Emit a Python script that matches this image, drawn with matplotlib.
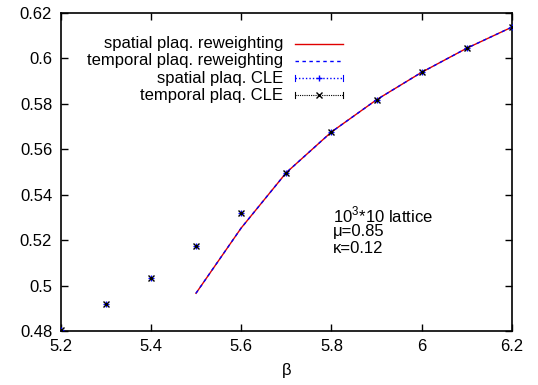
import matplotlib
matplotlib.use("Agg")
import matplotlib.pyplot as plt
from matplotlib.lines import Line2D

plt.rcParams['font.family'] = ['Liberation Sans', 'DejaVu Sans']
plt.rcParams['mathtext.fontset'] = 'custom'
plt.rcParams['mathtext.rm'] = 'Liberation Sans'

# ---- data ----
beta_rw = [5.5, 5.6, 5.7, 5.8, 5.9, 6.0, 6.1, 6.2]
spatial_rw = [0.4966, 0.5253, 0.5497, 0.5676, 0.5818, 0.5939, 0.6045, 0.6138]
temporal_rw = [0.4966, 0.5253, 0.5497, 0.5676, 0.5818, 0.5939, 0.6045, 0.6138]

beta_cle = [5.2, 5.3, 5.4, 5.5, 5.6, 5.7, 5.8, 5.9, 6.0, 6.1, 6.2]
spatial_cle = [0.4805, 0.4919, 0.5035, 0.5176, 0.5321, 0.5497, 0.5676, 0.5818, 0.5939, 0.6045, 0.6138]
temporal_cle = [0.4805, 0.4919, 0.5035, 0.5176, 0.5321, 0.5497, 0.5676, 0.5818, 0.5939, 0.6045, 0.6138]

labels = ["spatial plaq. reweighting", "temporal plaq. reweighting",
          "spatial plaq. CLE", "temporal plaq. CLE"]

fs = 12
fig = plt.figure(figsize=(5.38, 3.85), dpi=100)
ax = fig.add_axes([0.1125, 0.1403, 0.8392, 0.826])

ax.plot(beta_rw, spatial_rw, color="#e00000", lw=1.0, zorder=2)
ax.plot(beta_rw, temporal_rw, color="#0000ff", lw=1.0, ls=(0, (2.5, 2.5)), zorder=3)
ax.plot(beta_cle, spatial_cle, ls="none", marker="+", ms=5, mew=1.0, color="#0000ff", zorder=4)
ax.plot(beta_cle, temporal_cle, ls="none", marker="x", ms=4, mew=1.0, color="black", zorder=5)

ax.set_xlim(5.2, 6.2)
ax.set_ylim(0.48, 0.62)
ax.set_xticks([5.2, 5.4, 5.6, 5.8, 6.0, 6.2])
ax.set_xticklabels(["5.2", "5.4", "5.6", "5.8", "6", "6.2"])
ax.set_yticks([0.48, 0.50, 0.52, 0.54, 0.56, 0.58, 0.60, 0.62])
ax.set_yticklabels(["0.48", "0.5", "0.52", "0.54", "0.56", "0.58", "0.6", "0.62"])
ax.tick_params(direction="in", length=5, width=1, top=True, right=True,
               labelsize=fs, pad=6)
for s in ax.spines.values():
    s.set_linewidth(1.2)
ax.set_xlabel("β", fontsize=fs, labelpad=6)

# gnuplot-style key: right-aligned text, sample to the right
rows_y = [0.9025, 0.85, 0.7947, 0.742]
x_txt, x0, x1 = 0.4928, 0.5194, 0.6257
styles = [
    dict(color="#e00000", lw=1.0, ls="-"),
    dict(color="#0000ff", lw=1.0, ls=(0, (2.5, 2.5))),
    dict(color="#0000ff", lw=1.0, ls=(0, (1, 1.5))),
    dict(color="black", lw=0.8, ls=(0, (1, 1))),
]
marks = [None, None, "+", "x"]
for y, lab, st, mk in zip(rows_y, labels, styles, marks):
    ax.text(x_txt, y, lab, transform=ax.transAxes, ha="right", va="center", fontsize=fs)
    ax.add_line(Line2D([x0, x1], [y, y], transform=ax.transAxes, **st))
    if mk is not None:
        ax.add_line(Line2D([(x0 + x1) / 2], [y], transform=ax.transAxes, ls="none",
                           marker=mk, ms=4, mew=1.0, color=st["color"]))
        for xe in (x0, x1):
            ax.add_line(Line2D([xe, xe], [y - 0.01, y + 0.01], transform=ax.transAxes,
                               color=st["color"], lw=0.8))

ax.text(5.804, 0.531, r"10$^{3}$*10 lattice", fontsize=fs, va="center")
ax.text(5.804, 0.5236, "μ=0.85", fontsize=fs, va="center")
ax.text(5.804, 0.5161, "κ=0.12", fontsize=fs, va="center")

fig.savefig("out.png", dpi=100)
